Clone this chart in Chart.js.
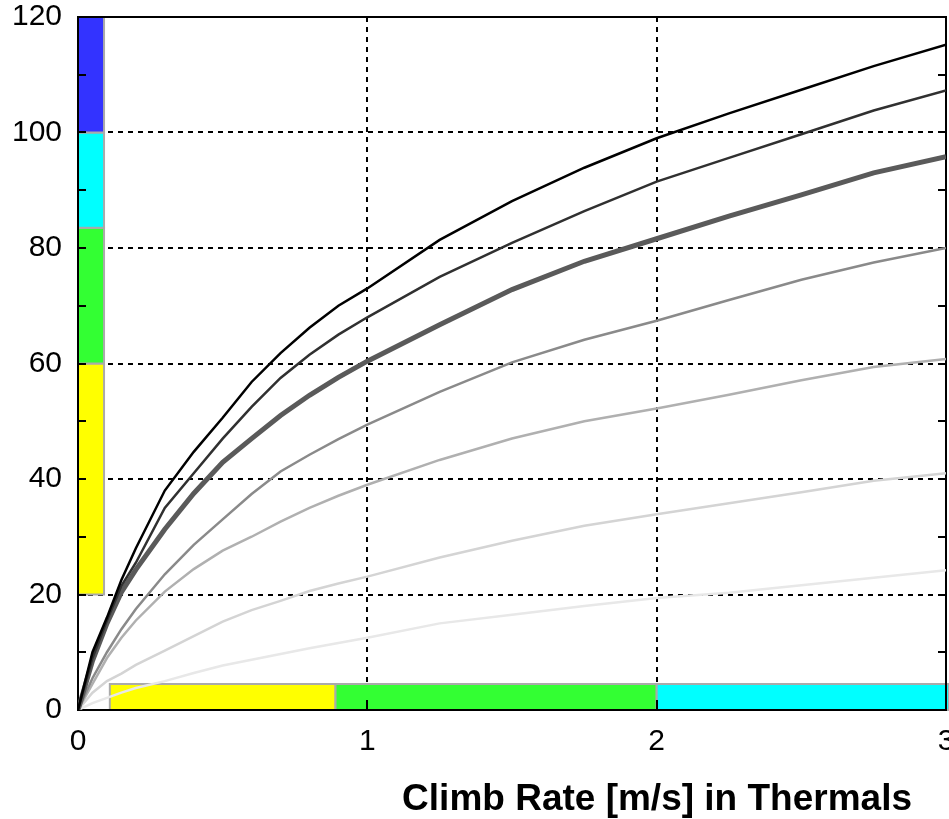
<!DOCTYPE html>
<html>
<head>
<meta charset="utf-8">
<script src="https://cdn.jsdelivr.net/npm/chart.js@4"></script>
<style>
  html, body { margin: 0; padding: 0; background: #fff; }
  #wrap { width: 949px; height: 819px; }
</style>
</head>
<body>
<div id="wrap"><canvas id="chart" width="949" height="819"></canvas></div>
<script>
// Climb rate in thermals (x) against the curves
const climbRates = [0, 0.05, 0.1, 0.15, 0.2, 0.3, 0.4, 0.5, 0.6, 0.7, 0.8, 0.9, 1.0, 1.25, 1.5, 1.75, 2.0, 2.25, 2.5, 2.75, 3.0];

const curve1 = [0, 10, 16, 22.5, 28, 38, 44.7, 50.6, 56.8, 61.8, 66.2, 70, 73, 81.4, 88.1, 93.9, 99, 103.3, 107.4, 111.5, 115.2];
const curve2 = [0, 9, 15.5, 21.5, 25.5, 35, 41, 47, 52.5, 57.5, 61.5, 65, 68, 75, 80.9, 86.4, 91.5, 95.6, 99.7, 103.8, 107.3];
const curve3 = [0, 8.5, 15, 20.4, 24.3, 31.3, 37.5, 42.9, 47, 51, 54.5, 57.6, 60.4, 66.7, 72.8, 77.7, 81.6, 85.5, 89.2, 93, 95.8];
const curve4 = [0, 5.5, 10, 14, 17.5, 23.5, 28.6, 33, 37.4, 41.3, 44.2, 46.9, 49.4, 55.1, 60.2, 64.1, 67.4, 71, 74.5, 77.5, 80];
const curve5 = [0, 4.5, 9, 12.5, 15.5, 20.5, 24.4, 27.6, 30, 32.6, 35, 37.1, 39, 43.3, 47, 50, 52.2, 54.6, 57.1, 59.4, 60.8];
const curve6 = [0, 3, 5, 6.3, 7.8, 10.3, 12.8, 15.3, 17.3, 18.9, 20.6, 21.9, 23.1, 26.4, 29.3, 31.9, 33.9, 35.8, 37.7, 39.7, 41];
const curve7 = [0, 1.2, 2.1, 3, 3.8, 5, 6.4, 7.7, 8.7, 9.7, 10.7, 11.6, 12.5, 15, 16.5, 18, 19.4, 20.3, 21.6, 22.9, 24.2];

const yTicks = [0, 20, 40, 60, 80, 100, 120];
const xTicks = [0, 1, 2, 3];

// Coloured bands: vertical bar on the y axis, horizontal bar on the x axis
const heightBandEdges = [20, 60, 83.5, 100, 120];
const climbBandEdges = [0.11, 0.89, 2.0, 3.01];

const curves = [curve1, curve2, curve3, curve4, curve5, curve6, curve7];
const curveColors = ['#000000', '#303030', '#5a5a5a', '#8a8a8a', '#b0b0b0', '#d4d4d4', '#e8e8e8'];
const curveWidths = [2.5, 2.5, 5, 2.5, 2.5, 2.5, 2.5];
const heightBandColors = ['#ffff00', '#33ff33', '#00ffff', '#3333ff'];
const climbBandColors = ['#ffff00', '#33ff33', '#00ffff'];

const FONT = '"Liberation Sans", Arial, sans-serif';

// Bands, inward ticks and the frame round the plot
const framePlugin = {
    id: 'frame',
    beforeDatasetsDraw(chart) {
        const { ctx, chartArea: a, scales: { x, y } } = chart;
        ctx.save();
        ctx.lineWidth = 2;
        ctx.strokeStyle = '#aaaaaa';

        const barRight = x.getPixelForValue(0.09);
        for (let i = 0; i < heightBandColors.length; i++) {
            const top = y.getPixelForValue(heightBandEdges[i + 1]);
            const bottom = y.getPixelForValue(heightBandEdges[i]);
            ctx.fillStyle = heightBandColors[i];
            ctx.fillRect(a.left, top, barRight - a.left, bottom - top);
            ctx.strokeRect(a.left, top, barRight - a.left, bottom - top);
        }

        const barTop = y.getPixelForValue(4.5);
        for (let i = 0; i < climbBandColors.length; i++) {
            const left = x.getPixelForValue(climbBandEdges[i]);
            const right = x.getPixelForValue(climbBandEdges[i + 1]);
            ctx.fillStyle = climbBandColors[i];
            ctx.fillRect(left, barTop, right - left, a.bottom - barTop);
            ctx.strokeRect(left, barTop, right - left, a.bottom - barTop);
        }

        ctx.strokeStyle = '#000';
        ctx.beginPath();
        for (let v = 10; v < 120; v += 10) {
            const py = Math.round(y.getPixelForValue(v));
            ctx.moveTo(a.left, py);
            ctx.lineTo(a.left + 8, py);
            ctx.moveTo(a.right, py);
            ctx.lineTo(a.right - 8, py);
        }
        [1, 2].forEach(v => {
            const px = Math.round(x.getPixelForValue(v));
            ctx.moveTo(px, a.bottom);
            ctx.lineTo(px, a.bottom - 10);
        });
        ctx.stroke();
        ctx.strokeRect(a.left, a.top, a.right - a.left, a.bottom - a.top);
        ctx.restore();
    },
    afterDraw(chart) {
        const { ctx } = chart;
        ctx.save();
        ctx.fillStyle = '#000';
        ctx.font = 'bold 37px ' + FONT;
        ctx.textAlign = 'right';
        ctx.textBaseline = 'alphabetic';
        ctx.fillText('Climb Rate [m/s] in Thermals', 912, 810);
        ctx.restore();
    }
};

const gridColor = ctx => (ctx.tick && (ctx.tick.value === 0 || ctx.tick.value === ctx.scale.max)) ? 'rgba(0,0,0,0)' : '#000';

new Chart(document.getElementById('chart'), {
    type: 'line',
    data: {
        datasets: curves.map((c, i) => ({
            data: climbRates.map((xv, j) => ({ x: xv, y: c[j] })),
            borderColor: curveColors[i],
            borderWidth: curveWidths[i],
            pointRadius: 0,
            tension: 0,
            fill: false
        }))
    },
    options: {
        responsive: false,
        devicePixelRatio: 1,
        animation: false,
        layout: { padding: { left: 0, top: 17, right: 3, bottom: 0 } },
        plugins: { legend: { display: false }, tooltip: { enabled: false } },
        scales: {
            x: {
                type: 'linear',
                min: 0,
                max: 3,
                afterBuildTicks: s => { s.ticks = xTicks.map(v => ({ value: v })); },
                afterFit: s => { s.height = 109; s.paddingLeft = 0; s.paddingRight = 0; },
                ticks: { color: '#000', font: { family: FONT, size: 30 }, padding: 14, maxRotation: 0 },
                grid: { color: gridColor, lineWidth: 2, drawTicks: false },
                border: { display: false, dash: [5, 5] }
            },
            y: {
                min: 0,
                max: 120,
                afterBuildTicks: s => { s.ticks = yTicks.map(v => ({ value: v })); },
                afterFit: s => { s.width = 78; s.paddingTop = 0; s.paddingBottom = 0; },
                ticks: { color: '#000', font: { family: FONT, size: 30 }, padding: 16 },
                grid: { color: gridColor, lineWidth: 2, drawTicks: false },
                border: { display: false, dash: [5, 5] }
            }
        }
    },
    plugins: [framePlugin]
});
</script>
</body>
</html>
